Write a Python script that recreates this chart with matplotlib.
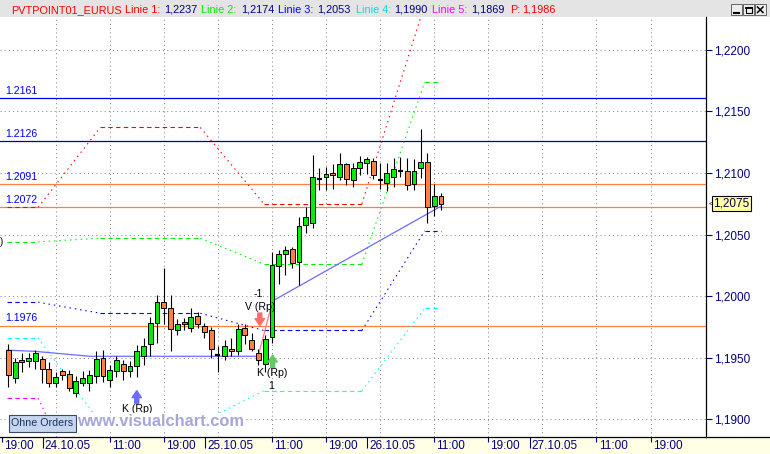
import matplotlib
matplotlib.use("Agg")
import matplotlib.pyplot as plt
import numpy as np
from matplotlib.lines import Line2D
from matplotlib.patches import Rectangle

plt.rcParams["font.family"] = ["Liberation Sans", "DejaVu Sans"]

# hourly EUR/USD bars, index 0 = first bar on screen
opens = [1.1956, 1.1933, 1.1946, 1.1947, 1.1947, 1.1949, 1.1941, 1.1929, 1.1939, 1.1937,
         1.1921, 1.1929, 1.1929, 1.1935, 1.1950, 1.1932, 1.1939, 1.1945, 1.1939, 1.1943,
         1.1951, 1.1961, 1.1978, 1.1995, 1.1990, 1.1972, 1.1977, 1.1974, 1.1984, 1.1976,
         1.1972, 1.1952, 1.1951, 1.1957, 1.1955, 1.1974, 1.1964, 1.1954, 1.1945, 1.1967,
         1.2024, 1.2034, 1.2038, 1.2028, 1.2058, 1.2059, 1.2095, 1.2097, 1.2100, 1.2097,
         1.2107, 1.2094, 1.2104, 1.2108, 1.2110, 1.2094, 1.2092, 1.2097, 1.2102, 1.2102,
         1.2091, 1.2104, 1.2109, 1.2073, 1.2081]
highs = [1.1961, 1.1950, 1.1954, 1.1954, 1.1956, 1.1951, 1.1946, 1.1938, 1.1941, 1.1940,
         1.1935, 1.1939, 1.1940, 1.1955, 1.1956, 1.1944, 1.1951, 1.1948, 1.1947, 1.1960,
         1.1966, 1.1983, 1.2001, 1.2023, 1.2001, 1.1981, 1.1982, 1.1990, 1.1987, 1.1978,
         1.1975, 1.1959, 1.1964, 1.1966, 1.1977, 1.1977, 1.1970, 1.1957, 1.1968, 1.2036,
         1.2037, 1.2041, 1.2040, 1.2064, 1.2072, 1.2115, 1.2104, 1.2105, 1.2107, 1.2116,
         1.2108, 1.2108, 1.2114, 1.2113, 1.2112, 1.2108, 1.2108, 1.2112, 1.2113, 1.2112,
         1.2111, 1.2136, 1.2116, 1.2091, 1.2084]
lows = [1.1926, 1.1929, 1.1938, 1.1942, 1.1941, 1.1929, 1.1926, 1.1926, 1.1932, 1.1923,
        1.1918, 1.1927, 1.1923, 1.1929, 1.1930, 1.1926, 1.1934, 1.1932, 1.1934, 1.1934,
        1.1944, 1.1951, 1.1962, 1.1977, 1.1955, 1.1968, 1.1972, 1.1971, 1.1974, 1.1966,
        1.1950, 1.1938, 1.1948, 1.1951, 1.1952, 1.1961, 1.1955, 1.1944, 1.1938, 1.1962,
        1.2010, 1.2017, 1.2023, 1.2009, 1.2051, 1.2055, 1.2086, 1.2086, 1.2087, 1.2094,
        1.2090, 1.2089, 1.2098, 1.2099, 1.2095, 1.2087, 1.2085, 1.2089, 1.2097, 1.2086,
        1.2086, 1.2096, 1.2059, 1.2065, 1.2070]
closes = [1.1936, 1.1946, 1.1948, 1.1950, 1.1954, 1.1941, 1.1929, 1.1934, 1.1936, 1.1925,
          1.1931, 1.1933, 1.1936, 1.1949, 1.1935, 1.1940, 1.1948, 1.1939, 1.1943, 1.1955,
          1.1959, 1.1978, 1.1995, 1.1990, 1.1973, 1.1977, 1.1979, 1.1983, 1.1977, 1.1971,
          1.1957, 1.1952, 1.1959, 1.1955, 1.1973, 1.1968, 1.1957, 1.1948, 1.1965, 1.2025,
          1.2034, 1.2037, 1.2027, 1.2057, 1.2064, 1.2097, 1.2095, 1.2099, 1.2098, 1.2107,
          1.2095, 1.2104, 1.2109, 1.2111, 1.2098, 1.2094, 1.2100, 1.2103, 1.2102, 1.2090,
          1.2102, 1.2109, 1.2072, 1.2081, 1.2075]

# pivot lines, one level per session (24.10 .. 27.10)
linie_1 = [1.2072, 1.2137, 1.2075, 1.2237]
linie_2 = [1.2044, 1.2047, 1.2026, 1.2174]
linie_3 = [1.1995, 1.1986, 1.1972, 1.2053]
linie_4 = [1.1966, 1.1897, 1.1923, 1.1990]
linie_5 = [1.1917, 1.1811, 1.1840, 1.1869]
roll_start = [4.4, 28.4, 52.3]   # bar where the new session level starts rolling in
roll_end = [13.6, 37.8, 61.6]
pivot_first, pivot_last = -0.2, 64.0

# order levels drawn as horizontal lines
levels = [1.2161, 1.2126, 1.2091, 1.2072, 1.1976]
level_colors = ["#0000ff", "#0000a0", "#ff8040", "#ff8040", "#ff8040"]

# position line
pline_x = [-0.2, 4.0, 12.1, 15.0, 36.5, 37.4]
pline_y = [1.1956, 1.1955, 1.1951, 1.1951, 1.1951, 1.1951]
link_x = [37.1, 39.1]
link_y = [1.1954, 1.1996]
trend_x = [39.1, 64.0]
trend_y = [1.1996, 1.2073]

# entry / exit signals
sig_idx = [19.0, 37.2, 39.1]
sig_price = [1.1923, 1.1976, 1.1952]
sig_name = ["K (Rp)", "V (Rp)", "K (Rp)"]
sig_qty = ["", "-1", "1"]
sig_buy = [True, False, True]
sig_colors = ["#6b6bff", "#ff6b6b", "#66c866"]

y_ticks = [1.1900, 1.1950, 1.2000, 1.2050, 1.2100, 1.2150, 1.2200]
time_ticks = [-0.9, 15, 23, 39, 47, 63, 71, 87, 95]
time_labels = ["19:00", "11:00", "19:00", "11:00", "19:00", "11:00", "19:00", "11:00", "19:00"]
date_ticks = [5.1, 29.1, 53.1, 77.1]
date_labels = ["24.10.05", "25.10.05", "26.10.05", "27.10.05"]
last_price = 1.2075

W, H = 770, 454
NAVY = "#000080"
GREEN = "#00ee00"
ORANGE = "#ff8040"

fig = plt.figure(figsize=(W / 100, H / 100), dpi=100)
fig.patch.set_facecolor("white")


def px_rect(x0, y0, x1, y1, **kw):
    r = Rectangle((x0 / W, 1 - y1 / H), (x1 - x0) / W, (y1 - y0) / H,
                  transform=fig.transFigure, **kw)
    fig.add_artist(r)
    return r


def px_line(xs, ys, **kw):
    fig.add_artist(Line2D([x / W for x in xs], [1 - y / H for y in ys],
                          transform=fig.transFigure, **kw))


# frame: title bar and date strip
px_rect(0, 0, W, 17, facecolor="#e4e4e4", edgecolor="none", zorder=0)
px_rect(0, 437, W, H, facecolor="#ffffe6", edgecolor="none", zorder=0)

ax = fig.add_axes([0, 1 - 437 / H, 706 / W, 420 / H])
ax.set_facecolor("white")
ax.set_xlim(-1.23, 103.2)
ax.set_ylim(1.18854, 1.22268)
for side in ("left", "top"):
    ax.spines[side].set_visible(False)
for side in ("right", "bottom"):
    ax.spines[side].set_color("black")
    ax.spines[side].set_linewidth(0.9)
px_line([706, W], [437, 437], color="black", lw=0.9)

# grid
dots = (0, (1, 3))
for v in y_ticks:
    ax.axhline(v, color="#8a8a8a", lw=0.75, ls=dots, zorder=0)
for g in np.arange(7, 103, 8):
    ax.axvline(g, color="#8a8a8a", lw=0.75, ls=dots, zorder=0)

# y axis on the right
ax.yaxis.tick_right()
ax.set_yticks(y_ticks)
ax.set_yticklabels([f"{v:.4f}".replace(".", ",") for v in y_ticks])
ax.tick_params(axis="y", length=4, width=0.8, color=NAVY, labelcolor=NAVY,
               labelsize=8.5, pad=2)

# x axis: dates as long ticks, hours as short ticks, labels left of tick
ax.set_xticks(date_ticks)
ax.set_xticks(time_ticks, minor=True)
ax.set_xticklabels([])
ax.tick_params(axis="x", which="major", length=8, width=0.8, color=NAVY)
ax.tick_params(axis="x", which="minor", length=3.5, width=0.8, color=NAVY)
for pos, lab in list(zip(date_ticks, date_labels)) + list(zip(time_ticks, time_labels)):
    ax.annotate(lab, xy=(pos, 0), xycoords=("data", "axes fraction"),
                xytext=(1.5, -2.5), textcoords="offset points", ha="left", va="top",
                fontsize=8.5, color=NAVY, annotation_clip=False)

# order levels
for lv, col in zip(levels, level_colors):
    ax.axhline(lv, color=col, lw=0.9, zorder=1)
    ax.annotate(f"{lv:.4f}", xy=(0.007, lv), xycoords=("axes fraction", "data"),
                xytext=(0, 1.5), textcoords="offset points", ha="left", va="bottom",
                fontsize=7.6, color="#0000ff")


# pivot lines: dashed while flat, dotted while rolling to the next session
def draw_pivot(vals, color):
    for k, lv in enumerate(vals):
        x0 = pivot_first if k == 0 else roll_end[k - 1]
        x1 = roll_start[k] if k < len(roll_start) else pivot_last
        ax.plot([x0, x1], [lv, lv], color=color, lw=0.8, ls=(0, (4, 3)), zorder=2)
        if k < len(roll_start):
            ax.plot([roll_start[k], roll_end[k]], [lv, vals[k + 1]], color=color,
                    lw=0.8, ls=(0, (1.3, 3.5)), zorder=2)


draw_pivot(linie_1, "#ff0000")
draw_pivot(linie_2, "#00ee00")
draw_pivot(linie_3, "#0000ee")
draw_pivot(linie_4, "#00ffff")
draw_pivot(linie_5, "#ff00ff")

# position line
ax.plot(pline_x, pline_y, color="#6b6bff", lw=0.9, zorder=2)
ax.plot(link_x, link_y, color="#ff7a7a", lw=0.9, zorder=2)
ax.plot(trend_x, trend_y, color="#6b6bff", lw=0.9, zorder=2)

# candles
bw = 0.72
for i, (o, h, l, c) in enumerate(zip(opens, highs, lows, closes)):
    ax.vlines(i, l, h, color="black", lw=0.8, zorder=3)
    if abs(c - o) < 1e-6:
        ax.hlines(c, i - bw / 2, i + bw / 2, color="black", lw=1.5, zorder=4)
    else:
        ax.add_patch(Rectangle((i - bw / 2, min(o, c)), bw, abs(c - o),
                               facecolor=GREEN if c > o else ORANGE,
                               edgecolor="black", lw=0.7, zorder=4))

# signals
for x, p, name, qty, buy, col in zip(sig_idx, sig_price, sig_name, sig_qty, sig_buy, sig_colors):
    d = -1 if buy else 1
    ax.annotate("", xy=(x, p), xytext=(0, 9 * d), textcoords="offset points",
                arrowprops=dict(arrowstyle="simple,head_length=0.55,head_width=0.75,tail_width=0.32",
                                color=col, shrinkA=0, shrinkB=0, mutation_scale=9), zorder=6)
    ax.annotate(name, xy=(x, p), xytext=(0, 13 * d), textcoords="offset points",
                ha="center", va="center", fontsize=7.6, color="black", zorder=6)
    if qty:
        ax.annotate(qty, xy=(x, p), xytext=(-1, 22.5 * d), textcoords="offset points",
                    ha="center", va="center", fontsize=7.6, color="black", zorder=6)

ax.text(-1.2, linie_2[0], ")", fontsize=7, color="black", va="center", ha="left")

# last price marker on the scale
ax.annotate(f"{last_price:.4f}".replace(".", ","), xy=(1, last_price),
            xycoords=("axes fraction", "data"), xytext=(5.3, 0), textcoords="offset points",
            ha="left", va="center", fontsize=8.5, color="#000040", annotation_clip=False,
            bbox=dict(boxstyle="square,pad=0.12", fc="#ffffa8", ec="black", lw=0.8), zorder=7)
ax.annotate("<", xy=(1, last_price), xycoords=("axes fraction", "data"),
            xytext=(1.6, 0), textcoords="offset points", ha="left", va="center",
            fontsize=5.5, color="black", annotation_clip=False)

# title bar
title_parts = [("PVTPOINT01_EURUS", 11, "#ff0000"), ("Linie 1:", 125, "#ff0000"),
               ("1,2237", 164, NAVY), ("Linie 2:", 201, "#00ee00"), ("1,2174", 241, NAVY),
               ("Linie 3:", 278, "#0000ff"), ("1,2053", 317, NAVY),
               ("Linie 4:", 356, "#00e0e0"), ("1,1990", 394, NAVY),
               ("Linie 5:", 432, "#ff00ff"), ("1,1869", 471, NAVY),
               ("P:", 510, "#ff0000"), ("1,1986", 522, "#ff0000")]
for txt, xp, col in title_parts:
    fig.text(xp / W, 1 - 10 / H, txt, fontsize=7.8, color=col, ha="left", va="center")

# window buttons
for k, bx in enumerate([731, 743, 755]):
    px_rect(bx, 4, bx + 11, 15, facecolor="#ececec", edgecolor="#505050", lw=0.6, zorder=3)
px_line([734, 739], [12.5, 12.5], color="black", lw=1.5, zorder=4)
px_rect(746, 7, 751.5, 12.5, facecolor="none", edgecolor="black", lw=0.8, zorder=4)
px_line([746, 751.5], [7.5, 7.5], color="black", lw=1.3, zorder=4)
px_line([757.5, 763], [7, 12.5], color="black", lw=1.1, zorder=4)
px_line([757.5, 763], [12.5, 7], color="black", lw=1.1, zorder=4)

# watermark and order box
fig.text(77 / W, 1 - 421 / H, "www.visualchart.com", fontsize=11.8, fontweight="bold",
         color="#a6a6d8", ha="left", va="center", zorder=8,
         bbox=dict(boxstyle="square,pad=0.05", fc="white", ec="none"))
px_rect(9, 415, 76, 432, facecolor="#c6d6ee", edgecolor="#3a4a66", lw=0.8, zorder=9)
fig.text(42.5 / W, 1 - 423.5 / H, "Ohne Orders", fontsize=7.7, color="#1a3060",
         ha="center", va="center", zorder=10)

fig.savefig("out.png", dpi=100)
